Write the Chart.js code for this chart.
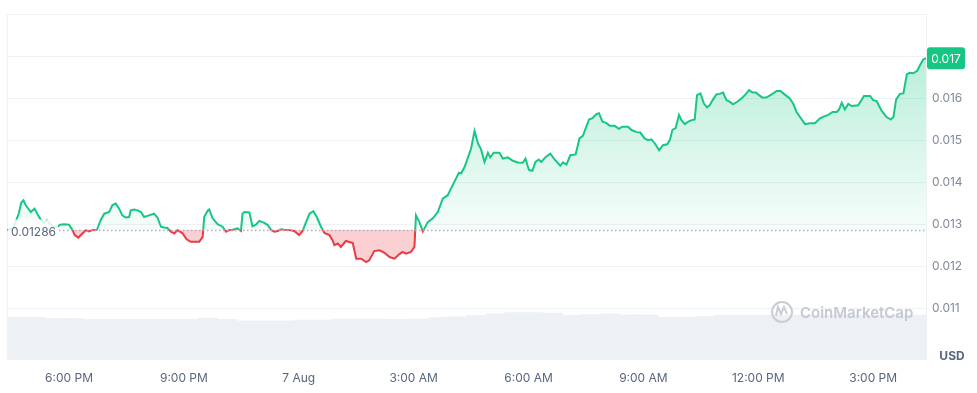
<!DOCTYPE html>
<html>
<head>
<meta charset="utf-8">
<script src="https://cdn.jsdelivr.net/npm/chart.js@4.4.1/dist/chart.umd.min.js"></script>
<style>
  html, body { margin: 0; padding: 0; background: #fff; }
  #wrap { width: 977px; height: 393px; }
</style>
</head>
<body>
<div id="wrap"><canvas id="graph" width="977" height="393"></canvas></div>
<script>
// -------------------------
// DATA
// -------------------------
const OPEN_PRICE = 0.01286;
const LAST_LABEL = "0.017";

// hours since window start (~4:22 PM)
const times = [
  0, 0.16, 0.31, 0.37, 0.43, 0.49, 0.55, 0.62, 0.72, 0.79,
  0.88, 0.97, 1.04, 1.10, 1.23, 1.32, 1.39, 1.49, 1.62, 1.71,
  1.77, 1.86, 1.97, 2.06, 2.14, 2.23, 2.35, 2.45, 2.54, 2.67,
  2.75, 2.84, 2.93, 3.01, 3.10, 3.19, 3.23, 3.32, 3.41, 3.50,
  3.58, 3.71, 3.84, 3.93, 4.02, 4.10, 4.19, 4.28, 4.37, 4.45,
  4.58, 4.69, 4.80, 5.02, 5.11, 5.15, 5.24, 5.28, 5.37, 5.50,
  5.63, 5.72, 5.80, 5.89, 6.02, 6.11, 6.15, 6.20, 6.33, 6.41,
  6.50, 6.59, 6.72, 6.81, 6.89, 6.98, 7.07, 7.16, 7.24, 7.37,
  7.50, 7.63, 7.72, 7.81, 7.90, 8.00, 8.09, 8.20, 8.29, 8.42,
  8.50, 8.55, 8.64, 8.72, 8.85, 9.03, 9.12, 9.25, 9.38, 9.46,
  9.59, 9.73, 9.86, 9.99, 10.12, 10.25, 10.33, 10.42, 10.55, 10.64,
  10.68, 10.77, 10.86, 10.99, 11.12, 11.25, 11.38, 11.51, 11.64, 11.80,
  11.86, 11.95, 12.12, 12.21, 12.30, 12.38, 12.47, 12.56, 12.62, 12.71,
  12.86, 12.95, 13.08, 13.21, 13.34, 13.47, 13.54, 13.63, 13.72, 13.80,
  13.89, 13.95, 14.07, 14.19, 14.30, 14.45, 14.52, 14.61, 14.71, 14.85,
  14.95, 15.04, 15.13, 15.20, 15.29, 15.39, 15.46, 15.55, 15.65, 15.74,
  15.87, 15.98, 16.07, 16.22, 16.31, 16.44, 16.54, 16.65, 16.74, 16.83,
  16.92, 17.03, 17.13, 17.24, 17.31, 17.38, 17.46, 17.55, 17.61, 17.70,
  17.79, 17.90, 17.96, 18.02, 18.11, 18.20, 18.28, 18.35, 18.44, 18.53,
  18.61, 18.70, 18.79, 18.88, 18.96, 19.05, 19.18, 19.27, 19.38, 19.47,
  19.56, 19.64, 19.73, 19.84, 19.97, 20.10, 20.20, 20.29, 20.44, 20.53,
  20.62, 20.71, 20.84, 20.97, 21.10, 21.23, 21.36, 21.45, 21.56, 21.67,
  21.73, 21.80, 21.88, 21.97, 22.06, 22.23, 22.38, 22.54, 22.62, 22.71,
  22.84, 22.97, 23.08, 23.15, 23.22, 23.32, 23.41, 23.50, 23.58, 23.67,
  23.77, 23.86, 23.93, 24.00
];

const prices = [
  0.01286, 0.01290, 0.01326, 0.01351, 0.01357, 0.01345, 0.01338, 0.01329, 0.01337, 0.01325,
  0.01311, 0.01303, 0.01310, 0.01302, 0.01294, 0.01294, 0.01299, 0.01300, 0.01299, 0.01286,
  0.01274, 0.01268, 0.01278, 0.01286, 0.01283, 0.01286, 0.01287, 0.01310, 0.01325, 0.01329,
  0.01345, 0.01349, 0.01337, 0.01321, 0.01316, 0.01317, 0.01333, 0.01335, 0.01333, 0.01329,
  0.01317, 0.01321, 0.01325, 0.01316, 0.01294, 0.01292, 0.01291, 0.01282, 0.01278, 0.01286,
  0.01279, 0.01264, 0.01258, 0.01258, 0.01270, 0.01317, 0.01332, 0.01335, 0.01314, 0.01300,
  0.01294, 0.01282, 0.01286, 0.01287, 0.01290, 0.01284, 0.01325, 0.01329, 0.01328, 0.01295,
  0.01299, 0.01308, 0.01303, 0.01298, 0.01287, 0.01282, 0.01284, 0.01288, 0.01287, 0.01286,
  0.01284, 0.01274, 0.01284, 0.01305, 0.01325, 0.01331, 0.01317, 0.01294, 0.01279, 0.01274,
  0.01262, 0.01250, 0.01254, 0.01246, 0.01260, 0.01255, 0.01218, 0.01218, 0.01210, 0.01214,
  0.01236, 0.01238, 0.01232, 0.01222, 0.01218, 0.01229, 0.01234, 0.01230, 0.01234, 0.01246,
  0.01321, 0.01305, 0.01283, 0.01305, 0.01314, 0.01329, 0.01361, 0.01369, 0.01393, 0.01422,
  0.01421, 0.01436, 0.01480, 0.01522, 0.01492, 0.01478, 0.01448, 0.01470, 0.01459, 0.01470,
  0.01470, 0.01456, 0.01459, 0.01451, 0.01447, 0.01446, 0.01456, 0.01429, 0.01427, 0.01448,
  0.01454, 0.01448, 0.01460, 0.01468, 0.01454, 0.01439, 0.01447, 0.01442, 0.01464, 0.01466,
  0.01504, 0.01510, 0.01532, 0.01549, 0.01552, 0.01562, 0.01564, 0.01544, 0.01541, 0.01534,
  0.01534, 0.01527, 0.01532, 0.01532, 0.01524, 0.01519, 0.01518, 0.01504, 0.01500, 0.01502,
  0.01492, 0.01476, 0.01488, 0.01490, 0.01500, 0.01525, 0.01528, 0.01560, 0.01548, 0.01538,
  0.01544, 0.01548, 0.01549, 0.01607, 0.01611, 0.01587, 0.01578, 0.01583, 0.01597, 0.01609,
  0.01610, 0.01613, 0.01595, 0.01591, 0.01585, 0.01590, 0.01599, 0.01607, 0.01619, 0.01613,
  0.01613, 0.01607, 0.01601, 0.01602, 0.01609, 0.01617, 0.01617, 0.01610, 0.01599, 0.01587,
  0.01567, 0.01555, 0.01538, 0.01540, 0.01540, 0.01552, 0.01557, 0.01560, 0.01567, 0.01567,
  0.01573, 0.01589, 0.01573, 0.01586, 0.01581, 0.01583, 0.01605, 0.01605, 0.01595, 0.01593,
  0.01570, 0.01555, 0.01549, 0.01555, 0.01597, 0.01610, 0.01611, 0.01657, 0.01660, 0.01659,
  0.01665, 0.01681, 0.01692, 0.01695
];

// half-hour volume (millions, relative)
const volumes = [
  4.32, 4.32, 4.22, 4.22, 4.10, 4.10, 4.10, 4.10, 4.10, 4.10,
  4.25, 4.12, 3.95, 3.95, 3.95, 4.05, 4.05, 4.15, 4.15, 4.15,
  4.10, 4.15, 4.30, 4.38, 4.50, 4.66, 4.79, 4.79, 4.74, 4.55,
  4.60, 4.66, 4.58, 4.58, 4.32, 4.35, 4.38, 4.55, 4.55, 4.55,
  4.55, 4.55, 4.55, 4.55, 4.55, 4.55, 4.55, 4.55
];

const tickHours = [1.62, 4.62, 7.62, 10.62, 13.62, 16.62, 19.62, 22.62];
const tickLabels = ["6:00 PM", "9:00 PM", "7 Aug", "3:00 AM", "6:00 AM", "9:00 AM", "12:00 PM", "3:00 PM"];
const priceTicks = [0.011, 0.012, 0.013, 0.014, 0.015, 0.016, 0.017, 0.018];

const GREEN = "#16c784";
const RED = "#ea3943";
const FONT = "Inter, 'Noto Sans', sans-serif";

// -------------------------
// GRADIENTS
// -------------------------
function lineGradient(context) {
  const chart = context.chart;
  const area = chart.chartArea;
  if (!area) return GREEN;
  const y = chart.scales.y.getPixelForValue(OPEN_PRICE);
  const f = Math.min(1, Math.max(0, (y - area.top) / (area.bottom - area.top)));
  const g = chart.ctx.createLinearGradient(0, area.top, 0, area.bottom);
  g.addColorStop(0, GREEN);
  g.addColorStop(f, GREEN);
  g.addColorStop(f, RED);
  g.addColorStop(1, RED);
  return g;
}

function fillGradient(context) {
  const chart = context.chart;
  const area = chart.chartArea;
  if (!area) return "rgba(22,199,132,0.15)";
  const y = chart.scales.y.getPixelForValue(OPEN_PRICE);
  const g = chart.ctx.createLinearGradient(0, area.top, 0, y);
  g.addColorStop(0, "rgba(22,199,132,0.36)");
  g.addColorStop(1, "rgba(22,199,132,0.04)");
  return g;
}

// -------------------------
// PLUGINS
// -------------------------
const framePlugin = {
  id: "frame",
  beforeDatasetsDraw(chart) {
    const { ctx, chartArea: a } = chart;
    ctx.save();
    ctx.strokeStyle = "#eff2f5";
    ctx.lineWidth = 1;
    ctx.beginPath();
    ctx.moveTo(a.left + 0.5, a.top);
    ctx.lineTo(a.left + 0.5, a.bottom);
    ctx.moveTo(a.right + 0.5, a.top);
    ctx.lineTo(a.right + 0.5, a.bottom);
    ctx.stroke();
    ctx.restore();
  }
};

const overlayPlugin = {
  id: "overlay",
  afterDatasetsDraw(chart) {
    const { ctx, chartArea: a, scales } = chart;
    const by = Math.round(scales.y.getPixelForValue(OPEN_PRICE)) + 0.5;
    ctx.save();

    // watermark
    ctx.strokeStyle = "#c9ced6";
    ctx.lineWidth = 2;
    ctx.beginPath();
    ctx.arc(782, 312, 10, 0, Math.PI * 2);
    ctx.stroke();
    ctx.beginPath();
    ctx.moveTo(776, 316);
    ctx.lineTo(778, 307);
    ctx.lineTo(781, 314);
    ctx.lineTo(784, 307);
    ctx.lineTo(787, 314);
    ctx.stroke();
    ctx.fillStyle = "#c4c9d2";
    ctx.font = "600 15px " + FONT;
    ctx.textBaseline = "middle";
    ctx.textAlign = "left";
    ctx.fillText("CoinMarketCap", 800, 313);

    // dotted open-price line
    ctx.strokeStyle = "#a6b0c3";
    ctx.lineWidth = 1.5;
    ctx.setLineDash([1.5, 2.5]);
    ctx.beginPath();
    ctx.moveTo(a.left, by);
    ctx.lineTo(a.right, by);
    ctx.stroke();
    ctx.setLineDash([]);

    // open price label
    ctx.fillStyle = "rgba(255,255,255,0.82)";
    ctx.fillRect(a.left + 1, by - 11, 50, 22);
    ctx.fillStyle = "#58667e";
    ctx.font = "12px " + FONT;
    ctx.textBaseline = "middle";
    ctx.fillText(OPEN_PRICE.toString(), a.left + 4, by + 1.5);

    // last price tag
    const ly = scales.y.getPixelForValue(prices[prices.length - 1]);
    ctx.fillStyle = GREEN;
    ctx.beginPath();
    ctx.roundRect(a.right + 1, ly - 11, 38, 22, 3);
    ctx.fill();
    ctx.fillStyle = "#ffffff";
    ctx.textAlign = "center";
    ctx.fillText(LAST_LABEL, a.right + 20, ly + 1);

    // unit
    ctx.fillStyle = "#58667e";
    ctx.font = "bold 12px " + FONT;
    ctx.fillText("USD", a.right + 26, a.bottom - 4);

    ctx.restore();
  }
};

// -------------------------
// INIT CHART
// -------------------------
function initChart() {
  const ctx = document.getElementById("graph").getContext("2d");
  const points = times.map((t, i) => ({ x: t, y: prices[i] }));

  new Chart(ctx, {
    type: "line",
    data: {
      datasets: [{
        type: "line",
        data: points,
        xAxisID: "x",
        yAxisID: "y",
        borderWidth: 2,
        pointRadius: 0,
        tension: 0,
        borderColor: lineGradient,
        backgroundColor: fillGradient,
        fill: { target: { value: OPEN_PRICE }, below: "rgba(234,57,67,0.24)" },
        order: 1
      }, {
        type: "bar",
        data: volumes,
        xAxisID: "x2",
        yAxisID: "v",
        backgroundColor: "#edf0f4",
        borderWidth: 0,
        grouped: false,
        barPercentage: 1,
        categoryPercentage: 1,
        order: 2
      }]
    },
    options: {
      responsive: false,
      animation: false,
      devicePixelRatio: 1,
      layout: { padding: { left: 7, top: 14, right: 0, bottom: 0 } },
      plugins: { legend: { display: false }, tooltip: { enabled: false } },
      scales: {
        x: {
          type: "linear",
          min: 0,
          max: 24,
          grid: { display: false, drawTicks: false },
          border: { display: false },
          afterBuildTicks: s => { s.ticks = tickHours.map(v => ({ value: v })); },
          afterFit: s => { s.height = 33; },
          ticks: {
            autoSkip: false,
            maxRotation: 0,
            padding: 11,
            color: "#58667e",
            font: { family: FONT, size: 12 },
            callback: (v, i) => tickLabels[i]
          }
        },
        x2: {
          type: "category",
          labels: volumes.map((_, i) => String(i)),
          display: false,
          offset: true,
          ticks: { autoSkip: false }
        },
        y: {
          position: "right",
          min: 0.00977,
          max: 0.018,
          grid: { color: "#eff2f5", drawTicks: false },
          border: { display: false },
          afterBuildTicks: s => { s.ticks = priceTicks.map(v => ({ value: v })); },
          afterFit: s => { s.width = 51; },
          ticks: {
            padding: 6,
            color: "#808a9d",
            font: { family: FONT, size: 12 },
            callback: v => (v > 0.0175 ? "" : v.toFixed(3))
          }
        },
        v: { display: false, min: 0, max: 35 }
      }
    },
    plugins: [framePlugin, overlayPlugin]
  });
}

initChart();
</script>
</body>
</html>
